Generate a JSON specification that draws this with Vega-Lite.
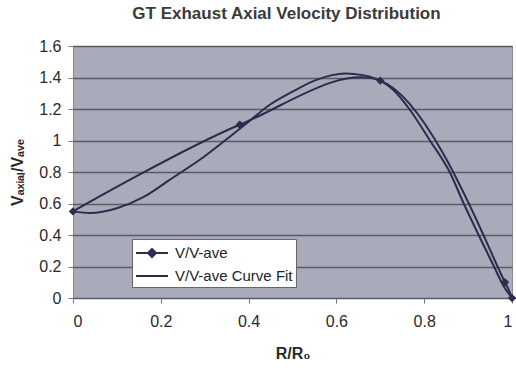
{
  "$schema": "https://vega.github.io/schema/vega-lite/v6.json",
  "autosize": {"type": "none"},
  "width": 439,
  "height": 252,
  "padding": {"left": 73, "top": 46, "right": 4, "bottom": 72},
  "background": "#ffffff",
  "title": {
    "text": "GT Exhaust Axial Velocity Distribution",
    "font": "Liberation Sans",
    "fontSize": 17,
    "fontWeight": "bold",
    "color": "#3a3a3a",
    "anchor": "middle",
    "dx": -6,
    "offset": 15
  },
  "config": {
    "view": {"fill": "#a9aaba", "stroke": "#8a8b95", "strokeWidth": 1},
    "axis": {
      "labelFont": "Liberation Sans",
      "labelFontSize": 16,
      "labelColor": "#2a2a2a",
      "labelOverlap": false,
      "labelBound": false,
      "titleFont": "Liberation Sans",
      "titleFontSize": 16,
      "titleFontWeight": "bold",
      "titleColor": "#2a2a2a",
      "domain": false,
      "tickColor": "#777777",
      "tickSize": 5
    }
  },
  "datasets": {
    "measured": [
      {"r": 0.0, "v": 0.55, "series": "V/V-ave"},
      {"r": 0.38, "v": 1.1, "series": "V/V-ave"},
      {"r": 0.7, "v": 1.38, "series": "V/V-ave"},
      {"r": 0.984, "v": 0.1, "series": "V/V-ave"},
      {"r": 1.0, "v": 0.0, "series": "V/V-ave"}
    ],
    "fit": [
      {"r": 0.0, "v": 0.55, "series": "V/V-ave Curve Fit"},
      {"r": 0.04, "v": 0.54, "series": "V/V-ave Curve Fit"},
      {"r": 0.1, "v": 0.57, "series": "V/V-ave Curve Fit"},
      {"r": 0.16, "v": 0.64, "series": "V/V-ave Curve Fit"},
      {"r": 0.22, "v": 0.75, "series": "V/V-ave Curve Fit"},
      {"r": 0.3, "v": 0.9, "series": "V/V-ave Curve Fit"},
      {"r": 0.36, "v": 1.03, "series": "V/V-ave Curve Fit"},
      {"r": 0.4, "v": 1.12, "series": "V/V-ave Curve Fit"},
      {"r": 0.45, "v": 1.23, "series": "V/V-ave Curve Fit"},
      {"r": 0.5, "v": 1.31, "series": "V/V-ave Curve Fit"},
      {"r": 0.55, "v": 1.38, "series": "V/V-ave Curve Fit"},
      {"r": 0.59, "v": 1.415, "series": "V/V-ave Curve Fit"},
      {"r": 0.62, "v": 1.425, "series": "V/V-ave Curve Fit"},
      {"r": 0.66, "v": 1.415, "series": "V/V-ave Curve Fit"},
      {"r": 0.7, "v": 1.38, "series": "V/V-ave Curve Fit"},
      {"r": 0.73, "v": 1.32, "series": "V/V-ave Curve Fit"},
      {"r": 0.766, "v": 1.2, "series": "V/V-ave Curve Fit"},
      {"r": 0.813, "v": 1.0, "series": "V/V-ave Curve Fit"},
      {"r": 0.858, "v": 0.8, "series": "V/V-ave Curve Fit"},
      {"r": 0.89, "v": 0.6, "series": "V/V-ave Curve Fit"},
      {"r": 0.924, "v": 0.4, "series": "V/V-ave Curve Fit"},
      {"r": 0.959, "v": 0.2, "series": "V/V-ave Curve Fit"},
      {"r": 0.98, "v": 0.08, "series": "V/V-ave Curve Fit"},
      {"r": 1.0, "v": 0.0, "series": "V/V-ave Curve Fit"}
    ]
  },
  "encoding": {
    "x": {
      "field": "r", "type": "quantitative",
      "scale": {"domain": [0, 1], "nice": false},
      "axis": {
        "title": "R/R₀", "values": [0, 0.2, 0.4, 0.6, 0.8, 1],
        "tickCount": 12,
        "grid": false, "labelPadding": 10, "titlePadding": 16,
        "labelExpr": "datum.value === 0 || datum.value === 1 ? format(datum.value, 'd') : format(datum.value, '.1f')"
      }
    },
    "y": {
      "field": "v", "type": "quantitative",
      "scale": {"domain": [0, 1.6], "nice": false},
      "axis": {
        "title": "Vₐₓᵢₐₗ/Vₐᵥₑ", "values": [0, 0.2, 0.4, 0.6, 0.8, 1, 1.2, 1.4, 1.6],
        "tickCount": 12,
        "grid": true, "gridColor": "#5a5b66", "gridWidth": 1.3, "gridOpacity": 1,
        "labelPadding": 7, "titlePadding": 13,
        "labelExpr": "datum.value === 0 || datum.value === 1 ? format(datum.value, 'd') : format(datum.value, '.1f')"
      }
    }
  },
  "layer": [
    {
      "data": {"name": "fit"},
      "mark": {"type": "line", "interpolate": "monotone", "strokeWidth": 2, "color": "#2c2c4c"},
      "encoding": {
        "color": {
          "field": "series", "type": "nominal",
          "scale": {"domain": ["V/V-ave", "V/V-ave Curve Fit"], "range": ["#2c2c4c", "#2c2c4c"]},
          "legend": {
            "title": null,
            "orient": "none",
            "legendX": 59,
            "legendY": 193,
            "fillColor": "#ffffff",
            "strokeColor": "#666666",
            "padding": 3,
            "labelFont": "Liberation Sans",
            "labelFontSize": 15,
            "labelColor": "#222222",
            "symbolSize": 400,
            "symbolStrokeWidth": 2,
            "symbolOffset": 6,
            "rowPadding": 4,
            "labelOffset": 12,
            "encode": {
              "symbols": {
                "update": {
                  "shape": {"signal": "datum.value === 'V/V-ave' ? 'M-1.6,0L1.6,0M0,-0.4L0.4,0L0,0.4L-0.4,0Z' : 'M-1.6,0L1.6,0'"},
                  "fill": {"value": "#2c2c4c"},
                  "stroke": {"value": "#2c2c4c"}
                }
              }
            }
          }
        }
      }
    },
    {
      "data": {"name": "measured"},
      "mark": {"type": "line", "interpolate": "catmull-rom", "strokeWidth": 2, "color": "#2c2c4c"},
      "encoding": {
        "color": {"field": "series", "type": "nominal"}
      }
    },
    {
      "data": {"name": "measured"},
      "mark": {"type": "point", "shape": "diamond", "filled": true, "size": 70, "color": "#2c2c4c", "opacity": 1}
    }
  ]
}
